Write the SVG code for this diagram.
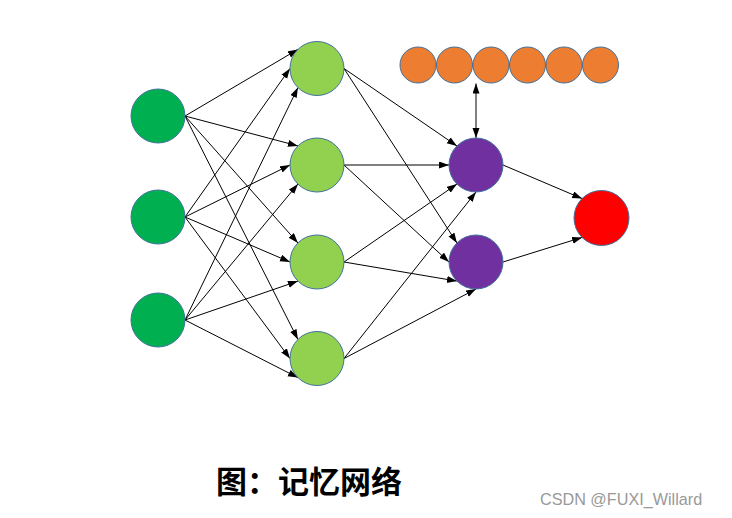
<svg xmlns="http://www.w3.org/2000/svg" width="732" height="518" viewBox="0 0 732 518">
<style>
.n{stroke:#41719C;stroke-width:1}
.in{fill:#00B050}.hid{fill:#92D050}.pur{fill:#7030A0}.out{fill:#FF0000}.mem{fill:#ED7D31}
.e{stroke:#000;stroke-width:1;fill:none;marker-end:url(#ah)}
.cap{font-family:"Noto Sans CJK SC","Noto Sans CJK JP",sans-serif;font-weight:bold;font-size:31px;fill:#000}
.wm{font-family:"Liberation Sans",Arial,sans-serif;font-size:16.2px;fill:#999}
</style>
<defs>
<marker id="ah" markerUnits="userSpaceOnUse" markerWidth="11" markerHeight="8" refX="10" refY="3.5" orient="auto-start-reverse" viewBox="0 0 11 8">
<path d="M0,0 L10,3.5 L0,7 z" fill="#000"/>
</marker>
</defs>
<rect width="732" height="518" fill="#fff"/>
<g id="connectors">
<line class="e" x1="185" y1="116" x2="297.9" y2="49.4"/>
<line class="e" x1="185" y1="116" x2="297.9" y2="145.9"/>
<line class="e" x1="185" y1="116" x2="297.9" y2="242.9"/>
<line class="e" x1="185" y1="116" x2="297.9" y2="339.4"/>
<line class="e" x1="185" y1="217" x2="290" y2="68.5"/>
<line class="e" x1="185" y1="217" x2="290" y2="165"/>
<line class="e" x1="185" y1="217" x2="290" y2="262"/>
<line class="e" x1="185" y1="217" x2="290" y2="358.5"/>
<line class="e" x1="185" y1="320" x2="297.9" y2="87.6"/>
<line class="e" x1="185" y1="320" x2="297.9" y2="184.1"/>
<line class="e" x1="185" y1="320" x2="297.9" y2="281.1"/>
<line class="e" x1="185" y1="320" x2="297.9" y2="377.6"/>
<line class="e" x1="344" y1="68.5" x2="456.9" y2="145.9"/>
<line class="e" x1="344" y1="68.5" x2="456.9" y2="242.9"/>
<line class="e" x1="344" y1="165" x2="449" y2="165"/>
<line class="e" x1="344" y1="165" x2="449" y2="262"/>
<line class="e" x1="344" y1="262" x2="456.9" y2="184.1"/>
<line class="e" x1="344" y1="262" x2="456.9" y2="281.1"/>
<line class="e" x1="344" y1="358.5" x2="476" y2="192"/>
<line class="e" x1="344" y1="358.5" x2="476" y2="289"/>
<line class="e" x1="503" y1="165" x2="582.1" y2="198.6"/>
<line class="e" x1="503" y1="262" x2="582.1" y2="237.4"/>
<line class="e" style="marker-start:url(#ah)" x1="476" y1="83.5" x2="476" y2="138"/>
</g>
<g id="input1"><circle class="n in" cx="158" cy="116" r="27"/></g>
<g id="input2"><circle class="n in" cx="158" cy="217" r="27"/></g>
<g id="input3"><circle class="n in" cx="158" cy="320" r="27"/></g>
<g id="hidden1"><circle class="n hid" cx="317" cy="68.5" r="27"/></g>
<g id="hidden2"><circle class="n hid" cx="317" cy="165" r="27"/></g>
<g id="hidden3"><circle class="n hid" cx="317" cy="262" r="27"/></g>
<g id="hidden4"><circle class="n hid" cx="317" cy="358.5" r="27"/></g>
<g id="purple1"><circle class="n pur" cx="476" cy="165" r="27"/></g>
<g id="purple2"><circle class="n pur" cx="476" cy="262" r="27"/></g>
<g id="output"><circle class="n out" cx="601.5" cy="218" r="27.5"/></g>
<g id="memory">
<circle class="n mem" cx="418" cy="65" r="18"/>
<circle class="n mem" cx="454.5" cy="65" r="18"/>
<circle class="n mem" cx="491" cy="65" r="18"/>
<circle class="n mem" cx="527.5" cy="65" r="18"/>
<circle class="n mem" cx="564" cy="65" r="18"/>
<circle class="n mem" cx="600.5" cy="65" r="18"/>
</g>
<g id="caption"><text class="cap" x="216" y="493">图：记忆网络</text></g>
<g id="watermark"><text class="wm" x="540" y="505">CSDN @FUXI_Willard</text></g>
</svg>
